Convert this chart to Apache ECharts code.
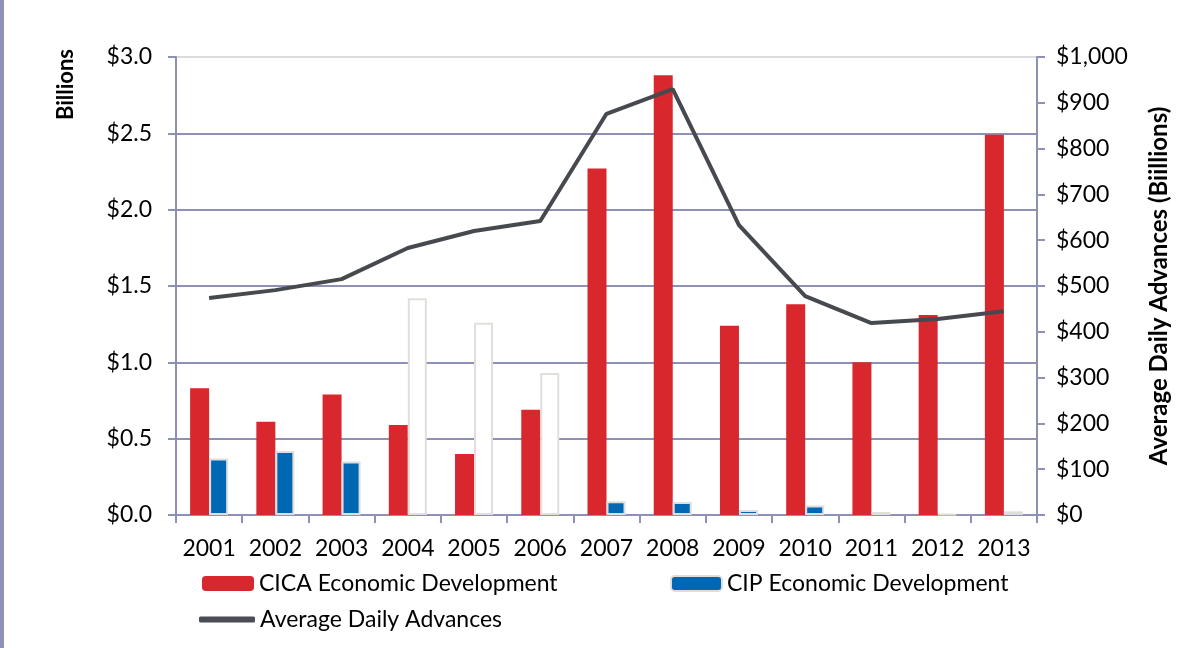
<!DOCTYPE html>
<html>
<head>
<meta charset="utf-8">
<script src="https://cdn.jsdelivr.net/npm/echarts@6/dist/echarts.min.js"></script>
<style>
  html, body { margin: 0; padding: 0; background: #fff; }
  #chart { width: 1200px; height: 648px; }
</style>
</head>
<body>
<div id="chart"></div>
<script>
const years = ["2001", "2002", "2003", "2004", "2005", "2006", "2007",
  "2008", "2009", "2010", "2011", "2012", "2013"];
// billions of dollars
const cica = [0.83, 0.61, 0.79, 0.59, 0.40, 0.69, 2.27, 2.88, 1.24, 1.38, 1.00, 1.31, 2.49];
const cip = [0.37, 0.42, 0.35, 1.42, 1.26, 0.93, 0.09, 0.085, 0.033, 0.063, 0.02, 0.005, 0.024];
// years where the CIP bar is drawn hollow in the original
const cipHollow = ["2004", "2005", "2006", "2011", "2012"];
// average daily advances, billions
const advances = [474, 491, 515, 583, 620, 642, 876, 930, 633, 478, 419, 428, 445];

const axisColor = "#8c91b5";
const font = "Lato, 'Open Sans', sans-serif";
const legendText = { fontSize: 23, color: "#000", fontFamily: font };

const cipData = cip.map(function (v, i) {
  if (cipHollow.indexOf(years[i]) >= 0) {
    return { value: v, itemStyle: { color: "#ffffff", borderColor: "#e2dfdb", borderWidth: 2 } };
  }
  return v;
});

const chart = echarts.init(document.getElementById("chart"));
chart.setOption({
  animation: false,
  textStyle: { fontFamily: font, color: "#000" },
  grid: { left: 176, right: 163, top: 57, bottom: 133 },
  legend: [
    { data: ["CICA Economic Development"], left: 197, top: 567, itemWidth: 52, itemHeight: 15,
      textStyle: legendText },
    { data: ["CIP Economic Development"], left: 665, top: 567, itemWidth: 51, itemHeight: 15,
      textStyle: legendText },
    { data: [{ name: "Average Daily Advances", icon: "roundRect" }], left: 194, top: 603,
      itemWidth: 56, itemHeight: 6, textStyle: legendText },
  ],
  xAxis: {
    type: "category",
    data: years,
    axisLine: { lineStyle: { color: axisColor, width: 2 } },
    axisTick: { show: true, length: 8, lineStyle: { color: axisColor, width: 2 } },
    axisLabel: { fontSize: 23, color: "#000", margin: 22, interval: 0 },
  },
  yAxis: [
    {
      type: "value", min: 0, max: 3, interval: 0.5,
      axisLine: { show: true, lineStyle: { color: axisColor, width: 2 } },
      axisTick: { show: true, length: 8, lineStyle: { color: axisColor, width: 2 } },
      axisLabel: { fontSize: 23, color: "#000", margin: 24,
        formatter: function (v) { return "$" + v.toFixed(1); } },
      splitLine: { lineStyle: { width: 2,
        color: [axisColor, axisColor, axisColor, axisColor, axisColor, axisColor, "#dcdcdc"] } },
    },
    {
      type: "value", min: 0, max: 1000, interval: 100,
      name: "Average Daily Advances (Biillions)",
      nameLocation: "middle", nameGap: 110, nameRotate: 90,
      nameTextStyle: { fontSize: 24, fontWeight: "bold", color: "#000" },
      axisLine: { show: true, lineStyle: { color: axisColor, width: 2 } },
      axisTick: { show: true, length: 8, lineStyle: { color: axisColor, width: 2 } },
      axisLabel: { fontSize: 23, color: "#000", margin: 19,
        formatter: function (v) { return "$" + v.toLocaleString("en-US"); } },
      splitLine: { show: false },
    },
  ],
  graphic: [
    { type: "rect", shape: { x: 0, y: 0, width: 4, height: 648 }, style: { fill: axisColor } },
    { type: "text", left: 55, top: 49, rotation: Math.PI / 2,
      style: { text: "Billions", font: "bold 22px " + font, fill: "#000" } },
  ],
  series: [
    {
      name: "CICA Economic Development", type: "bar", data: cica,
      barWidth: 19, barGap: "0%",
      itemStyle: { color: "#d9272e" },
    },
    {
      name: "CIP Economic Development", type: "bar", data: cipData,
      barWidth: 19,
      itemStyle: { color: "#0068b3", borderColor: "#dedede", borderWidth: 2 },
    },
    {
      name: "Average Daily Advances", type: "line", yAxisIndex: 1, data: advances,
      symbol: "none", lineStyle: { color: "#46494e", width: 4 },
      itemStyle: { color: "#4a4d55" },
    },
  ],
});
</script>
</body>
</html>
